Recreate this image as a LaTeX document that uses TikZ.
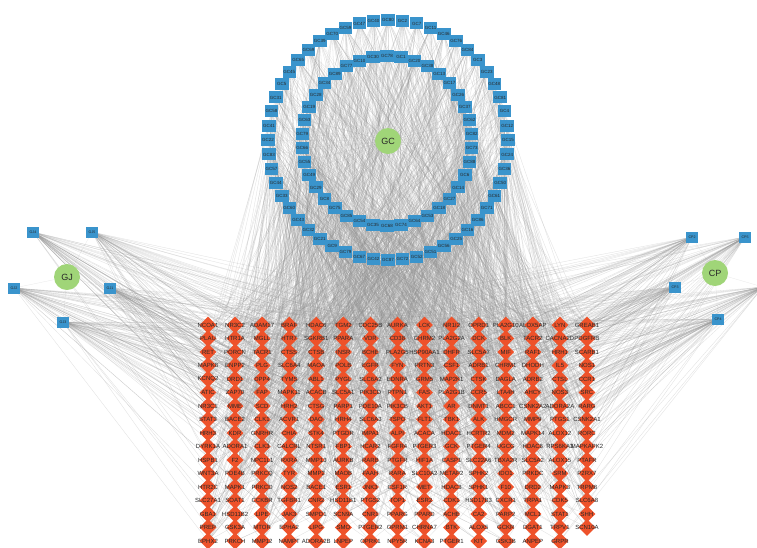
\documentclass[tikz,border=0pt]{standalone}
\usepackage{fontspec}
\setmainfont{Liberation Sans}
\usetikzlibrary{shapes.geometric}
\pgfdeclarelayer{edges}
\pgfsetlayers{edges,main}
\definecolor{cmpblue}{RGB}{58,148,204}
\definecolor{herbgreen}{RGB}{160,213,120}
\definecolor{tgtred}{RGB}{238,82,42}
\definecolor{edgegray}{RGB}{150,150,150}
\definecolor{labgray}{RGB}{40,40,40}
\tikzset{
  cmp/.style={rectangle, fill=cmpblue, minimum width=13.5pt, minimum height=12pt, inner sep=0pt, text=labgray, font=\fontsize{4.5}{5}\selectfont},
  cmpsmall/.style={cmp, minimum width=12pt, minimum height=11pt, font=\fontsize{3.6}{4}\selectfont},
  herb/.style={circle, fill=herbgreen, minimum size=26pt, inner sep=0pt, text=labgray, font=\fontsize{9}{9}\selectfont},
  tgt/.style={diamond, fill=tgtred, minimum width=17pt, minimum height=17pt, inner sep=0pt},
  tlab/.style={text=labgray, font=\fontsize{6}{6}\selectfont, inner sep=0pt},
  link/.style={draw=edgegray, line width=0.3pt, opacity=0.3},
  hlink/.style={draw=edgegray, line width=0.3pt, opacity=0.2},
}
\begin{document}
\begin{tikzpicture}[x=1pt,y=-1pt]
\useasboundingbox (0,0) rectangle (757,547);

% ---------- herb GC with two rings ----------
\node[herb] (gc) at (388,141) {GC};
\foreach \lab [count=\i] in {GC80,GC2,GC7,GC11,GC46,GC76,GC84,GC3,GC23,GC48,GC81,GC4,GC12,GC15,GC24,GC36,GC50,GC61,GC71,GC86,GC16,GC25,GC56,GC51,GC52,GC72,GC87,GC42,GC67,GC79,GC9,GC21,GC32,GC43,GC60,GC33,GC44,GC57,GC83,GC22,GC41,GC58,GC31,GC5,GC45,GC65,GC69,GC39,GC70,GC59,GC47,GC40}{
  \pgfmathsetmacro\ang{-90+(\i-1)*6.9231}
  \pgfmathsetmacro\px{388+120*cos(\ang)}
  \pgfmathsetmacro\py{140+120*sin(\ang)}
  \node[cmp] (o\i) at (\px,\py) {\lab};
}
\foreach \lab [count=\i] in {GC78,GC1,GC20,GC38,GC13,GC17,GC26,GC37,GC62,GC82,GC73,GC88,GC6,GC14,GC27,GC18,GC53,GC64,GC74,GC68,GC35,GC54,GC85,GC75,GC8,GC29,GC49,GC55,GC66,GC79,GC63,GC19,GC28,GC34,GC89,GC77,GC10,GC30}{
  \pgfmathsetmacro\ang{-90+(\i-1)*9.4737}
  \pgfmathsetmacro\px{387+85*cos(\ang)}
  \pgfmathsetmacro\py{141+85*sin(\ang)}
  \node[cmp] (n\i) at (\px,\py) {\lab};
}

% ---------- herb GJ ----------
\node[herb] (gj) at (67,277) {GJ};
\node[cmpsmall] (gj4) at (33,232) {GJ4};
\node[cmpsmall] (gj5) at (92,232) {GJ5};
\node[cmpsmall] (gj2) at (14,288) {GJ2};
\node[cmpsmall] (gj1) at (110,288) {GJ1};
\node[cmpsmall] (gj3) at (63,322) {GJ3};

% ---------- herb CP ----------
\node[herb] (cp) at (715,273) {CP};
\node[cmpsmall] (cp2) at (692,237) {CP2};
\node[cmpsmall] (cp5) at (745,237) {CP5};
\node[cmpsmall] (cp3) at (675,287) {CP3};
\node[cmpsmall] (cp4) at (718,319) {CP4};
\node[cmpsmall] (cp1) at (763,287) {};

% ---------- targets ----------
\def\targetrows{%
{NCOA1,NR3C2,ADAM17,BRAF,HDAC6,TGM2,CDC25B,AURKA,LCK,NR1I2,OPRD1,PLA2G10,ALOX5AP,LYN,GREAB1},%
{PLAU,HTR1A,MGLL,HTR7,SGKRB1,PPARA,VDR,CD38,CHRM2,PLA2G2A,DCK,BLK,TACR2,CACNA2D,PDGFRB},%
{RET,PORCN,TACR1,CTSS,CTSB,INSR,BCHE,PLA2G5,HSP90AA1,DHFR,SLC5A7,MIF,RAF1,HRH1,SCARB1},%
{MAPK8,ENPP2,PLG,SLC6A4,MAOA,POLB,EGFR,FYN,PRTN3,CSF1,ADRB1,CHRM1,DHODH,IL5,NOS1},%
{KCNQ2,DRD1,DPP4,TYMS,ABL1,PYGL,SLC6A2,EDNRA,GRM5,MAP2K1,CTSK,DAGLA,ADRB2,CTSL,CCR1},%
{ATIC,ZAP70,FAP,MAPK11,ACACB,SLC5A1,PIK3CD,PTPN1,FAS,PLA2G1B,CCR5,LTA4H,AHCY,NOS3,SRC},%
{NR3C1,MME,SCD,HRH2,CTSG,PARP1,PDE10A,PIK3CB,AKT1,AR,DNMT1,ABCC1,CSNK2A2,ADORA2A,RARG},%
{STAT3,BACE2,CLK1,ACVR1,DAO,HRH4,SLC6A3,TSPO,FLT1,TBK1,ALK,HMGCR,MMP9,PTGS1,CSNK2A1},%
{HRH3,KDR,GNRHR,CHIA,STK4,PTGDR,IMPA1,ALPI,ACACA,HDAC1,HCRTR2,MDM2,MAPK14,ALOX12,RORC},%
{DYRK1A,ADORA1,CLK3,CALCRL,NTSR1,FBP1,HCAR2,FGFR4,PTGER3,GCK,PTGER4,UGCG,HDAC8,RPS6KA3,MAPKAPK2},%
{HSPB1,F2,NPC1L1,RXRA,MMP13,AURKB,RARB,PTGFR,HIF1A,CASP1,SLC22A6,TBXA2R,SLC5A2,ALOX15,PTAFR},%
{WNT3A,PDE4B,PRKCQ,TYR,MMP2,MAOB,FAAH,RARA,SLC10A2,METAP2,SPHK2,IDO1,PRKDC,SRM,P2RX7},%
{HTR2C,MAPK1,PRKCD,NOS2,BACE1,ESR1,JNK3,CSF1R,MET,HDAC3,SPHK1,F10,DRD2,MAPK3,TRPM8},%
{SLC27A1,SOAT1,CCKBR,TGFBR1,CNR2,HSD11B1,PTGS2,TOP1,ESR2,CDK1,HSD17B3,CXCR1,TRPA1,CDK5,SLC6A8},%
{GBA1,HSD11B2,LIPE,JAK3,SMPD1,SCN9A,CNR1,PPARG,PPARD,ACHE,CA2,PARP2,MCL1,STAT1,SHH},%
{PREP,GSK3A,MTOR,EPHA2,LIPG,SMO,PTGER2,OPRM1,CHRNA7,BTK,ALOX5,GCKR,DGAT1,TRPV1,SCN10A},%
{EPHX2,PRKCH,MMP12,NAMPT,ADORA2B,LNPEP,OPRK1,NPY5R,KCNA3,PTGER1,KIT,GSK3B,ANPEP,GRPR}}
\foreach \row [count=\r] in \targetrows {
  \foreach \g [count=\c] in \row {
    \pgfmathsetmacro\xx{208+(\c-1)*27.07}
    \pgfmathsetmacro\yy{325+(\r-1)*13.5}
    \node[tgt] (t-\r-\c) at (\xx,\yy) {};
  }
}
\foreach \row [count=\r] in \targetrows {
  \foreach \g [count=\c] in \row {
    \node[tlab] (l-\r-\c) at (t-\r-\c.center) {\g};
  }
}

% ---------- edges ----------
\begin{pgfonlayer}{edges}
\fill[white] (0,0) rectangle (757,547);
\pgfmathsetseed{12345}
\foreach \i in {1,...,52}{
  \draw[hlink] (gc.center) -- (o\i.center);
  \foreach \k in {1,...,18}{
    \pgfmathrandominteger{\n}{0}{253}
    \pgfmathtruncatemacro\rr{div(\n,15)+1}
    \pgfmathtruncatemacro\cc{mod(\n,15)+1}
    \draw[link] (o\i.center) -- (t-\rr-\cc.center);
  }
}
\foreach \i in {1,...,38}{
  \draw[hlink] (gc.center) -- (n\i.center);
  \foreach \k in {1,...,18}{
    \pgfmathrandominteger{\n}{0}{253}
    \pgfmathtruncatemacro\rr{div(\n,15)+1}
    \pgfmathtruncatemacro\cc{mod(\n,15)+1}
    \draw[link] (n\i.center) -- (t-\rr-\cc.center);
  }
}
\foreach \h in {gj1,gj2,gj3,gj4,gj5,cp1,cp2,cp3,cp4,cp5}{
  \foreach \k in {1,...,50}{
    \pgfmathrandominteger{\n}{0}{253}
    \pgfmathtruncatemacro\rr{div(\n,15)+1}
    \pgfmathtruncatemacro\cc{mod(\n,15)+1}
    \draw[link] (\h.center) -- (t-\rr-\cc.center);
  }
}
\foreach \h in {gj1,gj2,gj3,gj4,gj5}{ \draw[hlink] (gj) -- (\h); }
\foreach \h in {cp1,cp2,cp3,cp4,cp5}{ \draw[hlink] (cp) -- (\h); }
\end{pgfonlayer}
\end{tikzpicture}
\end{document}
